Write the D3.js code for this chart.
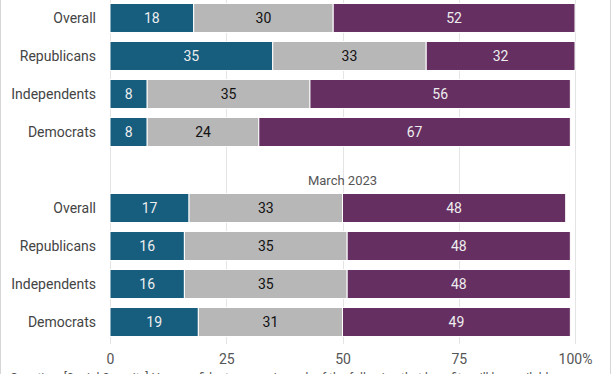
<!DOCTYPE html>
<html>
<head>
<meta charset="utf-8">
<script src="https://cdn.jsdelivr.net/npm/d3@7"></script>
<style>
  html, body { margin: 0; padding: 0; background: #fff; }
  svg { display: block; font-family: Roboto, "Noto Sans", sans-serif; }
</style>
</head>
<body>
<svg id="chart" width="612" height="374"></svg>
<script>
// ---- data ----
const categories = ["Overall", "Republicans", "Independents", "Democrats"];
const groupTitles = ["", "March 2023"];
const seriesNames = ["s1", "s2", "s3"];
const latestValues = [[18, 30, 52], [35, 33, 32], [8, 35, 56], [8, 24, 67]];
const march2023Values = [[17, 33, 48], [16, 35, 48], [16, 35, 48], [19, 31, 49]];
const tickValues = [0, 25, 50, 75, 100];
const tickLabels = ["0", "25", "50", "75", "100%"];
const colors = ["#175d7e", "#b7b7b7", "#652f62"];
const labelColors = ["#eeeeee", "#111111", "#eeeeee"];
const footnote = "Question: [Social Security] How confident are you in each of the following that benefits will be available…";

// ---- layout ----
const svg = d3.select("#chart");
const W = 612, H = 374;

const x = d3.scaleLinear().domain([0, 100]).range([110, 575]);

const groupsData = [latestValues, march2023Values];
const slots = [];
groupsData.forEach((g, gi) => {
  if (gi > 0) slots.push("title" + gi);
  categories.forEach(c => slots.push(gi + "|" + c));
});
const y = d3.scaleBand().domain(slots).range([-1, 341]).paddingInner(0.237).paddingOuter(0.118);

// frame
svg.append("line").attr("x1", 0.5).attr("x2", 0.5).attr("y1", 0).attr("y2", H).attr("stroke", "#d6d6d6");
svg.append("line").attr("x1", 610.5).attr("x2", 610.5).attr("y1", 0).attr("y2", H).attr("stroke", "#d6d6d6");

// gridlines
svg.append("g").selectAll("line").data(tickValues).join("line")
  .attr("x1", d => Math.round(x(d)) + 0.5).attr("x2", d => Math.round(x(d)) + 0.5)
  .attr("y1", 0).attr("y2", 344)
  .attr("stroke", "#e4e4e4").attr("stroke-width", 1);

// axis labels
const axis = d3.axisBottom(x).tickValues(tickValues).tickFormat((d, i) => tickLabels[i]).tickSize(0).tickPadding(0);
const ag = svg.append("g").attr("transform", "translate(0,354)").call(axis);
ag.select(".domain").remove();
ag.selectAll("text").attr("font-size", 14).attr("fill", "#555").attr("font-family", "Roboto, sans-serif");

// group titles
groupTitles.forEach((t, gi) => {
  if (!t) return;
  svg.append("text")
    .attr("x", x(50)).attr("y", y("title" + gi) + y.bandwidth() / 2 + 15)
    .attr("text-anchor", "middle").attr("font-size", 13).attr("fill", "#555")
    .text(t);
});

// bars
groupsData.forEach((g, gi) => {
  g.forEach((vals, ci) => {
    const key = gi + "|" + categories[ci];
    const yy = y(key);
    const row = svg.append("g");
    // category label
    row.append("text")
      .attr("x", 96).attr("y", yy + y.bandwidth() / 2).attr("dy", "0.35em")
      .attr("text-anchor", "end").attr("font-size", 14).attr("fill", "#444")
      .text(categories[ci]);
    let acc = 0;
    const segs = vals.map((v, si) => { const s = { v, si, x0: acc, x1: acc + v }; acc += v; return s; });
    row.selectAll("rect").data(segs).join("rect")
      .attr("x", d => x(d.x0)).attr("width", d => x(d.x1) - x(d.x0))
      .attr("y", yy).attr("height", y.bandwidth())
      .attr("fill", d => colors[d.si])
      .attr("stroke", "#fff").attr("stroke-width", 1);
    row.selectAll("text.val").data(segs).join("text").attr("class", "val")
      .attr("x", d => (x(d.x0) + x(d.x1)) / 2)
      .attr("y", yy + y.bandwidth() / 2).attr("dy", "0.36em")
      .attr("text-anchor", "middle").attr("font-size", 14)
      .attr("fill", d => labelColors[d.si])
      .text(d => d.v);
  });
});

// footnote (cut off at bottom edge)
svg.append("text").attr("x", 10).attr("y", 382).attr("font-size", 12).attr("fill", "#555").text(footnote);
</script>
</body>
</html>
